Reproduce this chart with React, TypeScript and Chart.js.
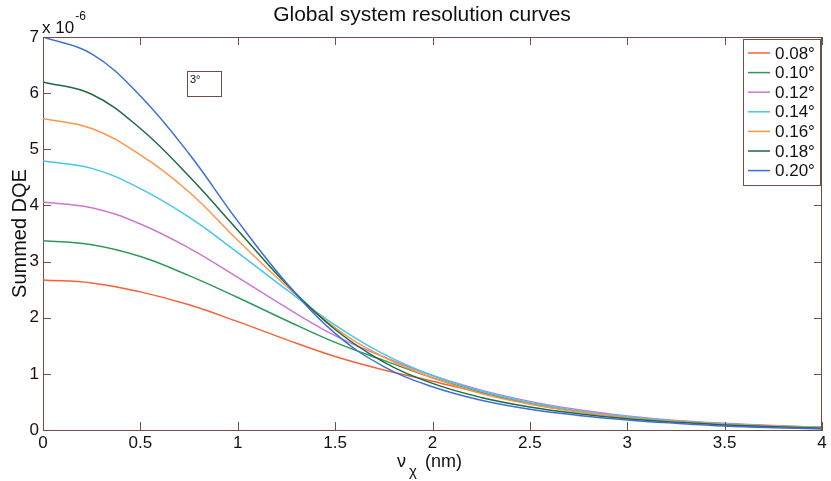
import React, { useEffect, useRef } from "react";
import { Chart, registerables } from "chart.js";

Chart.register(...registerables);

const xValues = [0, 0.25, 0.5, 0.75, 1.0, 1.25, 1.5, 1.75, 2.0, 2.25, 2.5, 2.75, 3.0, 3.25, 3.5, 3.75, 4.0];

const seriesLabels = ["0.08°", "0.10°", "0.12°", "0.14°", "0.16°", "0.18°", "0.20°"];
const seriesColors = ["#F4623A", "#2F9A55", "#CC78CC", "#45C6EE", "#FF9548", "#1F6A3E", "#3C6FD6"];

const s008 = [2.67, 2.62, 2.46, 2.23, 1.93, 1.61, 1.31, 1.07, 0.87, 0.66, 0.47, 0.33, 0.22, 0.15, 0.10, 0.07, 0.04];
const s010 = [3.37, 3.30, 3.09, 2.75, 2.36, 1.95, 1.56, 1.24, 0.93, 0.67, 0.47, 0.33, 0.23, 0.16, 0.11, 0.07, 0.05];
const s012 = [4.06, 3.96, 3.67, 3.24, 2.72, 2.18, 1.68, 1.30, 0.97, 0.71, 0.51, 0.36, 0.25, 0.17, 0.12, 0.08, 0.05];
const s014 = [4.79, 4.66, 4.30, 3.79, 3.16, 2.50, 1.87, 1.35, 0.97, 0.69, 0.49, 0.34, 0.24, 0.16, 0.11, 0.07, 0.05];
const s016 = [5.55, 5.37, 4.90, 4.24, 3.38, 2.56, 1.82, 1.30, 0.93, 0.65, 0.46, 0.32, 0.22, 0.15, 0.10, 0.07, 0.04];
const s018 = [6.20, 5.98, 5.37, 4.52, 3.56, 2.60, 1.79, 1.21, 0.83, 0.58, 0.41, 0.29, 0.20, 0.14, 0.09, 0.06, 0.03];
const s020 = [7.00, 6.70, 5.95, 4.92, 3.72, 2.62, 1.72, 1.13, 0.77, 0.53, 0.37, 0.26, 0.18, 0.12, 0.07, 0.04, 0.02];

const seriesValues = [s008, s010, s012, s014, s016, s018, s020];

const xTickValues = [0, 0.5, 1, 1.5, 2, 2.5, 3, 3.5, 4];
const yTickValues = [0, 1, 2, 3, 4, 5, 6, 7];

const titleText = "Global system resolution curves";
const yAxisTitle = "Summed DQE";
const annotationText = "3°";

const FONT = '"Liberation Sans", Arial, sans-serif';
const AXIS_COLOR = "#6E5049";

const decorPlugin = {
  id: "decor",
  afterDraw(chart: any) {
    const ctx = chart.ctx;
    const a = chart.chartArea;
    const xs = chart.scales.x;
    const ys = chart.scales.y;
    ctx.save();
    ctx.strokeStyle = AXIS_COLOR;
    ctx.lineWidth = 1;
    ctx.beginPath();
    ctx.moveTo(a.left, a.top + 0.5);
    ctx.lineTo(a.right, a.top + 0.5);
    ctx.moveTo(a.right - 0.5, a.top);
    ctx.lineTo(a.right - 0.5, a.bottom);
    ctx.stroke();
    const tl = 8;
    ctx.beginPath();
    xTickValues.forEach((v) => {
      const px = Math.round(xs.getPixelForValue(v)) + 0.5;
      ctx.moveTo(px, a.bottom);
      ctx.lineTo(px, a.bottom - tl);
      ctx.moveTo(px, a.top);
      ctx.lineTo(px, a.top + tl);
    });
    yTickValues.forEach((v) => {
      const py = Math.round(ys.getPixelForValue(v)) + 0.5;
      ctx.moveTo(a.left, py);
      ctx.lineTo(a.left + tl, py);
      ctx.moveTo(a.right, py);
      ctx.lineTo(a.right - tl, py);
    });
    ctx.stroke();

    ctx.fillStyle = "#111";
    ctx.font = `21px ${FONT}`;
    ctx.textAlign = "center";
    ctx.textBaseline = "middle";
    ctx.fillText(titleText, 422, 15);

    ctx.textAlign = "left";
    ctx.textBaseline = "alphabetic";
    ctx.font = `17px ${FONT}`;
    ctx.fillText("x 10", 42, 33);
    const w = ctx.measureText("x 10").width;
    ctx.font = `12px ${FONT}`;
    ctx.fillText("-6", 42 + w + 1, 20);

    ctx.save();
    ctx.translate(20, (a.top + a.bottom) / 2);
    ctx.rotate(-Math.PI / 2);
    ctx.font = `20px ${FONT}`;
    ctx.textAlign = "center";
    ctx.textBaseline = "middle";
    ctx.fillText(yAxisTitle, 0, 0);
    ctx.restore();

    ctx.font = `18px ${FONT}`;
    ctx.textAlign = "left";
    ctx.textBaseline = "alphabetic";
    ctx.fillText("ν", 397, 467);
    ctx.font = `15px ${FONT}`;
    ctx.fillText("χ", 409, 476);
    ctx.font = `18px ${FONT}`;
    ctx.fillText("(nm)", 425, 467);

    ctx.strokeStyle = AXIS_COLOR;
    ctx.strokeRect(187.5, 71.5, 34, 25);
    ctx.font = `11px ${FONT}`;
    ctx.fillStyle = "#111";
    ctx.textBaseline = "top";
    ctx.fillText(annotationText, 190, 74);

    const lx = 743.5, ly = 39.5, lw = 77, lh = 146;
    ctx.fillStyle = "#fff";
    ctx.fillRect(lx, ly, lw, lh);
    ctx.strokeStyle = AXIS_COLOR;
    ctx.strokeRect(lx, ly, lw, lh);
    ctx.font = `17px ${FONT}`;
    ctx.textBaseline = "middle";
    seriesLabels.forEach((lab, i) => {
      const cy = 53 + i * 19.6;
      ctx.strokeStyle = seriesColors[i];
      ctx.lineWidth = 1.5;
      ctx.beginPath();
      ctx.moveTo(748, cy);
      ctx.lineTo(770, cy);
      ctx.stroke();
      ctx.fillStyle = "#111";
      ctx.fillText(lab, 775, cy + 1);
    });
    ctx.restore();
  },
};

export default function App() {
  const canvasRef = useRef<HTMLCanvasElement | null>(null);

  useEffect(() => {
    const canvas = canvasRef.current;
    if (!canvas) return;
    const datasets = seriesValues.map((vals, i) => ({
      label: seriesLabels[i],
      data: xValues.map((x, j) => ({ x, y: vals[j] })),
      borderColor: seriesColors[i],
      backgroundColor: seriesColors[i],
      borderWidth: 1.5,
      pointRadius: 0,
      fill: false,
      tension: 0.4,
      order: seriesValues.length - i,
    }));
    const chart = new Chart(canvas, {
      type: "line",
      data: { datasets },
      options: {
        responsive: false,
        animation: false,
        layout: { padding: { top: 37, right: 9, left: 0, bottom: 0 } },
        plugins: {
          legend: { display: false },
          title: { display: false },
          tooltip: { enabled: false },
        },
        scales: {
          x: {
            type: "linear",
            min: 0,
            max: 4,
            afterBuildTicks: (scale: any) => {
              scale.ticks = xTickValues.map((v) => ({ value: v }));
            },
            afterFit: (scale: any) => {
              scale.height = 51;
            },
            grid: { display: false, drawTicks: false },
            border: { display: true, color: AXIS_COLOR, width: 1 },
            ticks: {
              color: "#111",
              font: { family: FONT, size: 17 },
              padding: 3,
              maxRotation: 0,
              autoSkip: false,
              callback: (v: any) => String(v),
            },
          },
          y: {
            type: "linear",
            min: 0,
            max: 7,
            afterBuildTicks: (scale: any) => {
              scale.ticks = yTickValues.map((v) => ({ value: v }));
            },
            afterFit: (scale: any) => {
              scale.width = 43;
            },
            grid: { display: false, drawTicks: false },
            border: { display: true, color: AXIS_COLOR, width: 1 },
            ticks: {
              color: "#111",
              font: { family: FONT, size: 17 },
              padding: 4,
              autoSkip: false,
              callback: (v: any) => String(v),
            },
          },
        },
      },
      plugins: [decorPlugin],
    });
    return () => chart.destroy();
  }, []);

  return (
    <div style={{ position: "fixed", left: 0, top: 0, width: 831, height: 481, background: "#fff" }}>
      <canvas ref={canvasRef} width={831} height={481} style={{ width: 831, height: 481 }} />
    </div>
  );
}
